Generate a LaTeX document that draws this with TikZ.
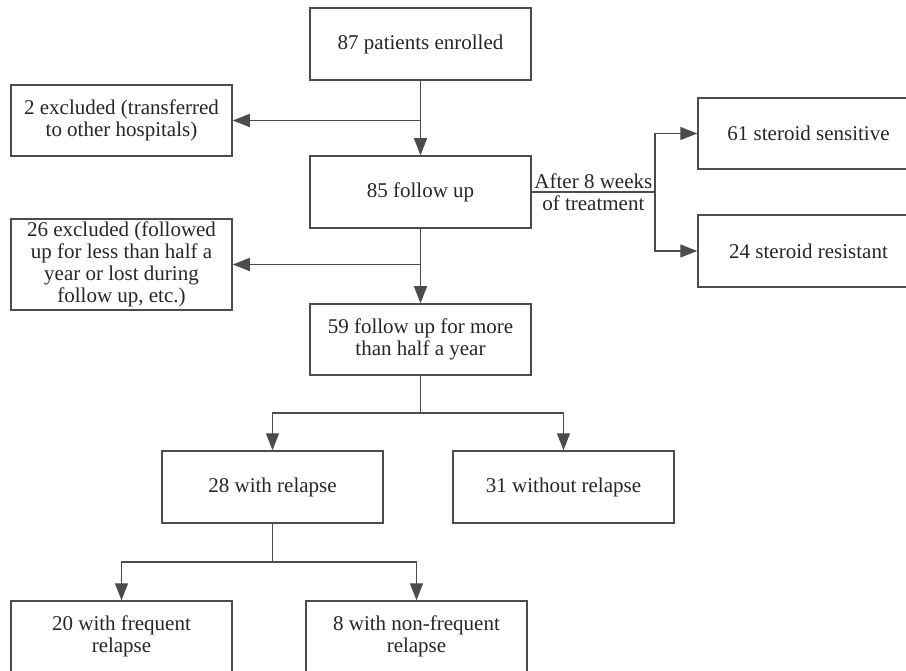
\documentclass[tikz,border=0pt]{standalone}
\usepackage{fontspec}
\setmainfont{Liberation Serif}
\usetikzlibrary{arrows.meta}

\begin{document}
\begin{tikzpicture}[x=1pt,y=-1pt,
  box/.style={draw=black!70,line width=1.5pt,minimum width=221pt,minimum height=71pt,
    align=center,inner sep=2pt,text=black!85,font=\fontsize{21}{22}\selectfont},
  link/.style={draw=black!70,line width=1.4pt},
  arr/.style={link,-{Triangle[length=17pt,width=13pt]}}]
\clip (0,0) rectangle (906,671);

\node[box,minimum height=72pt] (enrol) at (420.5,44) {87 patients enrolled};
\node[box] (excl1) at (121.5,120.5) {2 excluded (transferred\\to other hospitals)};
\node[box,minimum height=72pt] (fu85) at (420.5,192) {85 follow up};
\node[box] (sens) at (808.5,133.5) {61 steroid sensitive};
\node[box,minimum height=72pt] (resist) at (808.5,251) {24 steroid resistant};
\node[box,minimum height=91pt] (excl2) at (121.5,264.5)
  {26 excluded (followed\\up for less than half a\\year or lost during\\follow up, etc.)};
\node[box] (fu59) at (420.5,339.5) {59 follow up for more\\than half a year};
\node[box,minimum height=72pt] (rel28) at (272.5,487) {28 with relapse};
\node[box,minimum height=72pt] (norel31) at (563.5,487) {31 without relapse};
\node[box] (freq20) at (121.5,636.5) {20 with frequent\\relapse};
\node[box] (nonfreq8) at (416.5,636.5) {8 with non-frequent\\relapse};

\coordinate (j1) at (enrol.south |- excl1.east);
\coordinate (j2) at (655,192);
\coordinate (j3) at (fu85.south |- excl2.east);
\coordinate (j4) at (420.5,413);
\coordinate (j5) at (272.5,562);

\draw[arr] (enrol.south) -- (fu85.north);
\draw[arr] (j1) -- (excl1.east);
\draw[link] (fu85.east) -- node[midway,align=center,inner sep=0pt,text=black!85,
  font=\fontsize{21}{22}\selectfont] {After 8 weeks\\of treatment} (j2);
\draw[arr] (j2) |- (sens.west);
\draw[arr] (j2) |- (resist.west);

\draw[arr] (fu85.south) -- (fu59.north);
\draw[arr] (j3) -- (excl2.east);

\draw[link] (fu59.south) -- (j4);
\draw[arr] (j4) -| (rel28.north);
\draw[arr] (j4) -| (norel31.north);

\draw[link] (rel28.south) -- (j5);
\draw[arr] (j5) -| (freq20.north);
\draw[arr] (j5) -| (nonfreq8.north);
\end{tikzpicture}
\end{document}
